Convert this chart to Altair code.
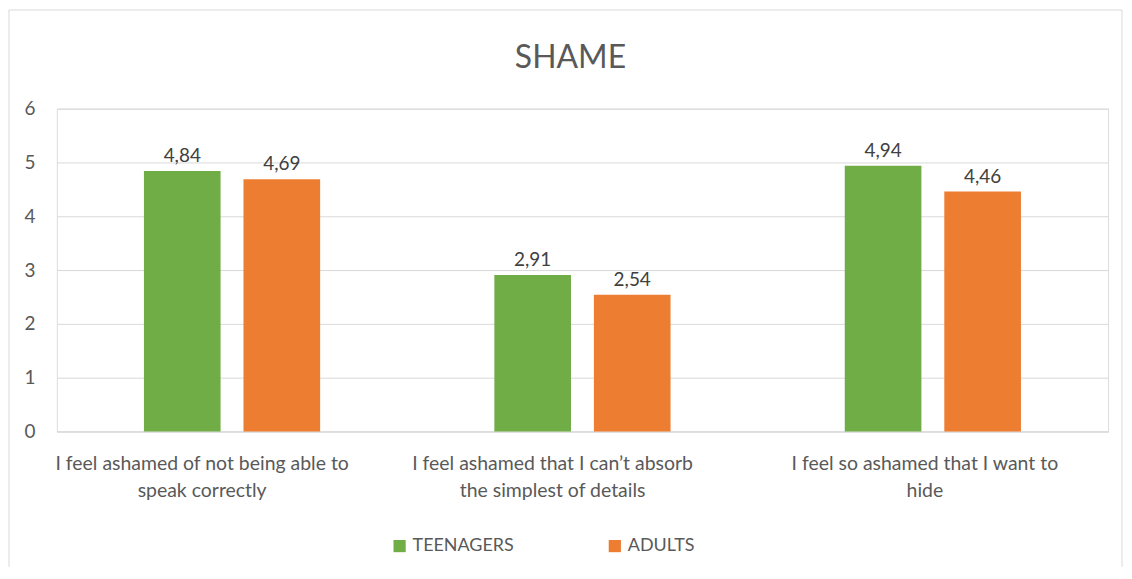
import altair as alt
import pandas as pd

categories = [
    "I feel ashamed of not being able to\nspeak correctly",
    "I feel ashamed that I can\u2019t absorb\nthe simplest of details",
    "I feel so ashamed that I want to\nhide",
]
series = ["TEENAGERS", "ADULTS"]
teenagers = [4.84, 2.91, 4.94]
adults = [4.69, 2.54, 4.46]
colors = ["#70AD47", "#ED7D31"]
y_ticks = [0, 1, 2, 3, 4, 5, 6]

rows = []
for i, c in enumerate(categories):
    rows.append({"category": c, "group": series[0], "value": teenagers[i]})
    rows.append({"category": c, "group": series[1], "value": adults[i]})
df = pd.DataFrame(rows)

FONT = "Lato"
TXT = "#595959"

x = alt.X(
    "category:N",
    sort=categories,
    scale=alt.Scale(paddingInner=0, paddingOuter=0),
    axis=alt.Axis(
        title=None,
        labelAngle=0,
        labelExpr="split(datum.label, '\\n')",
        labelFont=FONT,
        labelFontSize=19.5,
        labelColor=TXT,
        labelLineHeight=27,
        labelPadding=23,
        labelLimit=400,
        labelOffset={
            "condition": {"test": "indexof(datum.value, 'hide') >= 0", "value": -8},
            "value": -30,
        },
        ticks=False,
        domainColor="#D9D9D9",
        domainWidth=1,
        grid=False,
    ),
)
xoff = alt.XOffset(
    "group:N",
    sort=series,
    scale=alt.Scale(paddingInner=0.23, paddingOuter=0.875),
)
y = alt.Y(
    "value:Q",
    scale=alt.Scale(domain=[0, 6]),
    axis=alt.Axis(
        title=None,
        values=y_ticks,
        labelFont=FONT,
        labelFontSize=19,
        labelColor=TXT,
        labelPadding=22,
        ticks=False,
        domain=False,
        gridColor="#D9D9D9",
        gridWidth=1,
    ),
)
color = alt.Color(
    "group:N",
    sort=series,
    scale=alt.Scale(domain=series, range=colors),
    legend=alt.Legend(
        title=None,
        orient="none",
        legendX=335,
        legendY=430,
        direction="horizontal",
        symbolType="square",
        symbolSize=150,
        symbolStrokeWidth=0,
        labelFont=FONT,
        labelFontSize=18,
        labelColor=TXT,
        columnPadding=92,
    ),
)

base = alt.Chart(df)

bars = base.mark_bar().encode(x=x, xOffset=xoff, y=y, color=color)

labels = base.transform_calculate(
    label="replace(format(datum.value, '.2f'), '.', ',')"
).mark_text(
    dy=-5, font=FONT, fontSize=19, color="#404040", baseline="bottom"
).encode(x=x, xOffset=xoff, y=y, text="label:N")

border = alt.Chart(pd.DataFrame({"v": [0]})).mark_rect(
    fill=None, stroke="#D9D9D9", strokeWidth=1, clip=False
).encode(
    x=alt.value(-48), x2=alt.value(1069), y=alt.value(-99), y2=alt.value(170 + 324)
)

chart = alt.layer(border, bars, labels).properties(
    width=1055,
    height=324,
    title=alt.TitleParams(
        "SHAME",
        font=FONT,
        fontSize=32,
        fontWeight="normal",
        color=TXT,
        anchor="middle",
        baseline="bottom",
        offset=-98,
        dx=-12,
    ),
    autosize=alt.AutoSizeParams(type="none"),
    padding={"left": 49, "top": 100, "right": 16, "bottom": 135},
).configure_view(stroke=None).configure(background="white")

chart.save("out.html", embed_options={"renderer": "svg", "actions": False})
